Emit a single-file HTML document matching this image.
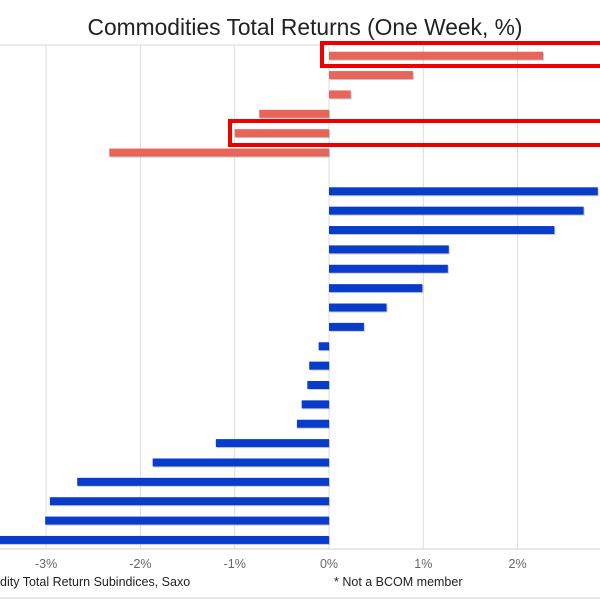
<!DOCTYPE html>
<html><head><meta charset="utf-8"><style>
html,body{margin:0;padding:0;background:#fff;width:600px;height:600px;overflow:hidden}
svg{display:block}
text{font-family:"Liberation Sans",sans-serif}
</style></head><body>
<svg id="chart" width="600" height="600" viewBox="0 0 600 600" xmlns="http://www.w3.org/2000/svg">
<text x="305" y="35" font-size="22.8" text-anchor="middle" fill="#222">Commodities Total Returns (One Week, %)</text>
<line x1="0" y1="45" x2="600" y2="45" stroke="#d8d8d8" stroke-width="1"/>
<g id="grid"></g>
<g id="bars"></g>
<line x1="0" y1="549" x2="600" y2="549" stroke="#d0d0d0" stroke-width="1"/>
<g id="ticks"></g>
<rect x="322" y="43" width="290" height="23" fill="none" stroke="#ee0000" stroke-width="4"/>
<rect x="230" y="121" width="380" height="24" fill="none" stroke="#ee0000" stroke-width="4"/>
<text x="0" y="586" font-size="12.5" fill="#222">dity Total Return Subindices, Saxo</text>
<text x="334" y="586" font-size="12.5" fill="#222">* Not a BCOM member</text>
<line x1="0" y1="598" x2="600" y2="598" stroke="#cfcfcf" stroke-width="1"/>
</svg>
<script>
const redValues = [2.27, 0.89, 0.23, -0.74, -1.0, -2.33];
const blueValues = [2.85, 2.70, 2.39, 1.27, 1.26, 0.99, 0.61, 0.37, -0.11, -0.21, -0.23, -0.29, -0.34, -1.2, -1.87, -2.67, -2.96, -3.01, -3.6];
const tickValues = [-3, -2, -1, 0, 1, 2];
const tickLabels = ["-3%", "-2%", "-1%", "0%", "1%", "2%"];

const NS = "http://www.w3.org/2000/svg";
function xScale(v){ return 329 + v * 94.3; }
function yScale(i){ return 55.7 + i * 19.37; }
const grid = document.getElementById('grid');
const ticks = document.getElementById('ticks');
tickValues.forEach((t, k) => {
  const l = document.createElementNS(NS, 'line');
  
  
  l.setAttribute('x1', xScale(t)); l.setAttribute('x2', xScale(t));
  l.setAttribute('y1', 45); l.setAttribute('y2', 549);
  l.setAttribute('stroke', '#dedede'); l.setAttribute('stroke-width', 1);
  grid.appendChild(l);
  const tx = document.createElementNS(NS, 'text');
  
  
  tx.setAttribute('x', xScale(t)); tx.setAttribute('y', 568);
  tx.setAttribute('font-size', '12.5'); tx.setAttribute('fill', '#666');
  tx.setAttribute('text-anchor', 'middle');
  tx.textContent = tickLabels[k];
  ticks.appendChild(tx);
});
const bars = document.getElementById('bars');
function drawBar(v, i, color){
  const x0 = Math.min(xScale(0), xScale(v));
  const w = Math.abs(xScale(v) - xScale(0));
  const cy = yScale(i);
  const s = document.createElementNS(NS, 'rect');
  
  
  s.setAttribute('x', x0 + 1); s.setAttribute('y', cy - 3);
  s.setAttribute('width', w); s.setAttribute('height', 8);
  s.setAttribute('fill', '#999'); s.setAttribute('opacity', '0.5');
  bars.appendChild(s);
  const r = document.createElementNS(NS, 'rect');
  
  
  r.setAttribute('x', x0); r.setAttribute('y', cy - 4);
  r.setAttribute('width', w); r.setAttribute('height', 8);
  r.setAttribute('fill', color);
  bars.appendChild(r);
}
redValues.forEach((v, i) => drawBar(v, i, '#e8655a'));
blueValues.forEach((v, i) => drawBar(v, i + 7, '#0a3ccc'));
</script>
</body></html>
